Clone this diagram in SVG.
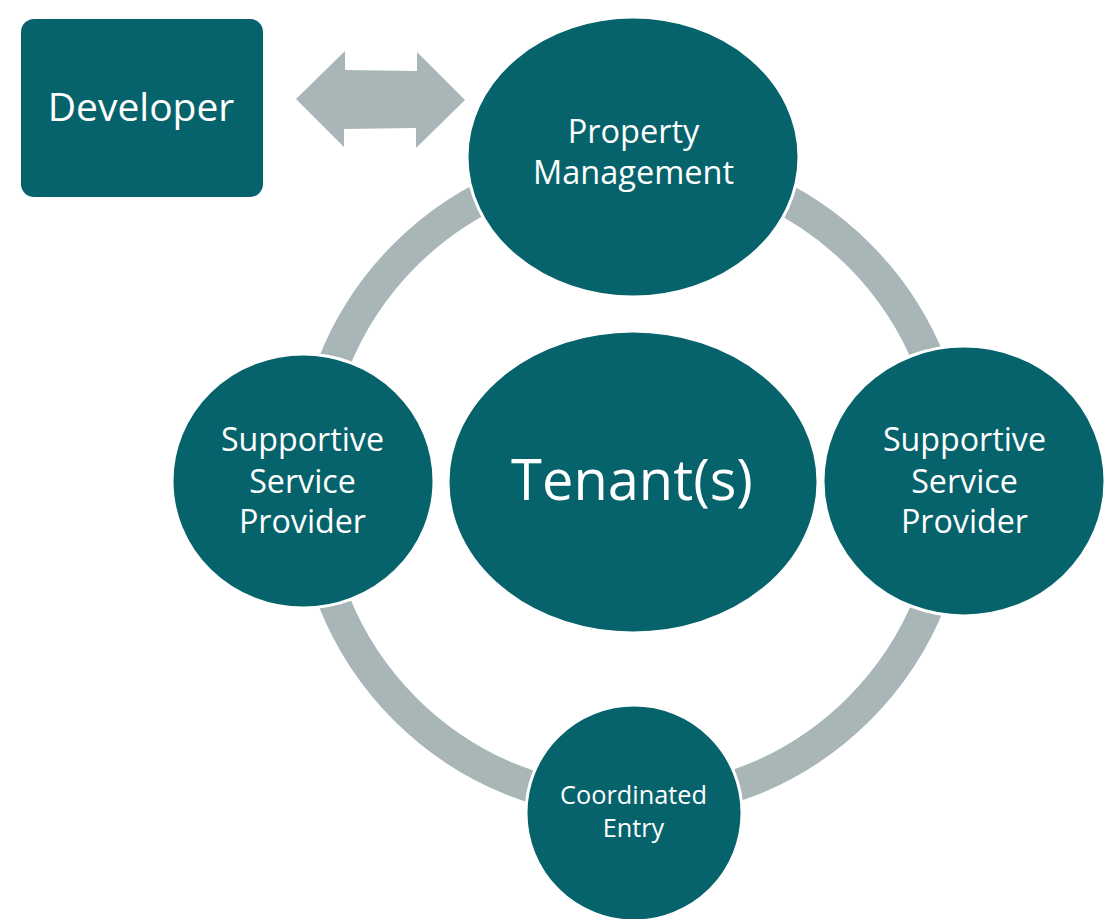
<svg xmlns="http://www.w3.org/2000/svg" width="1107" height="919" viewBox="0 0 1107 919">
  <style>
    .node { fill: #06636B; stroke: #FFFFFF; stroke-width: 3; }
    .box { fill: #06636B; }
    .link { fill: #A9B6B8; }
    .ring { fill: none; stroke: #A9B6B8; stroke-width: 32; }
    .label { fill: #FFFFFF; font-family: "Open Sans", "Noto Sans", "Liberation Sans", sans-serif; text-anchor: middle; }
  </style>
  <rect width="1107" height="919" fill="#FFFFFF"/>

  <!-- connectors: cycle ring and the two-way arrow -->
  <g id="connectors">
    <circle class="ring" cx="632" cy="482" r="321"/>
    <polygon class="link" points="296,99 345,51 345,70 417,71 417,52 465,100 416,148 416,128 344,129 344,147"/>
  </g>

  <g id="developer">
    <rect class="box" x="21" y="19" width="242" height="178" rx="13" ry="13"/>
    <text class="label" x="141" y="121" font-size="39">Developer</text>
  </g>

  <g id="property-management">
    <ellipse class="node" cx="633" cy="157" rx="166" ry="140"/>
    <text class="label" x="633.5" y="143" font-size="32.5">Property</text>
    <text class="label" x="633.5" y="184" font-size="32.5">Management</text>
  </g>

  <g id="tenants">
    <ellipse class="node" cx="633" cy="482" rx="185" ry="151"/>
    <text class="label" x="632" y="500" font-size="56">Tenant(s)</text>
  </g>

  <g id="service-provider-left">
    <ellipse class="node" cx="303" cy="481" rx="131" ry="127"/>
    <text class="label" x="302.5" y="451" font-size="32.2">Supportive</text>
    <text class="label" x="302.5" y="493" font-size="32.2">Service</text>
    <text class="label" x="302.5" y="533" font-size="32.2">Provider</text>
  </g>

  <g id="service-provider-right">
    <ellipse class="node" cx="964" cy="481" rx="141" ry="135"/>
    <text class="label" x="964.5" y="451" font-size="32.2">Supportive</text>
    <text class="label" x="964.5" y="493" font-size="32.2">Service</text>
    <text class="label" x="964.5" y="533" font-size="32.2">Provider</text>
  </g>

  <g id="coordinated-entry">
    <ellipse class="node" cx="634" cy="813" rx="108" ry="108"/>
    <text class="label" x="633.5" y="804" font-size="25.3">Coordinated</text>
    <text class="label" x="633.5" y="837" font-size="25.3">Entry</text>
  </g>
</svg>
